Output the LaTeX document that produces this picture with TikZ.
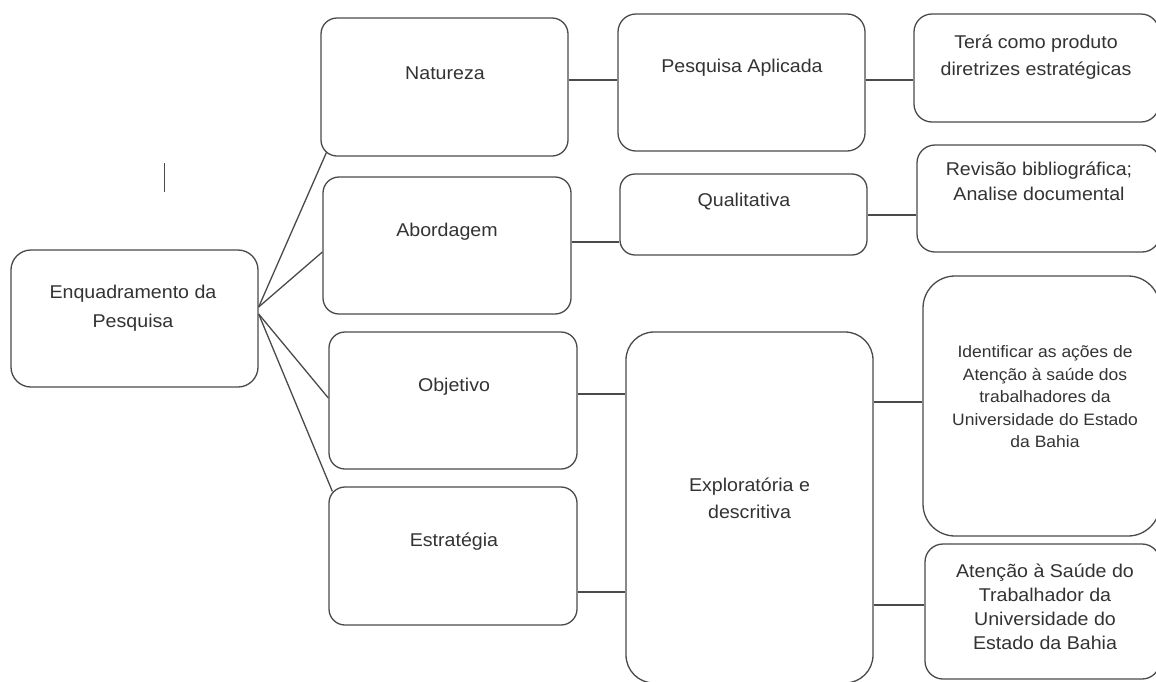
\documentclass[tikz,border=0pt]{standalone}
\usepackage{fontspec}
\setmainfont{Liberation Sans}[FakeStretch=1.06]
\begin{document}
\begin{tikzpicture}[x=1pt,y=-1pt,
  box/.style={draw=linegray, line width=1.3pt, rectangle, inner sep=0pt, fill=white},
  txt/.style={text=textgray, align=center, inner sep=0pt, font=\fontsize{18.5}{26}\selectfont},
  small/.style={text=textgray, align=center, inner sep=0pt, font=\fontsize{16.5}{22.5}\selectfont},
  link/.style={draw=linegray, line width=1.3pt}]
\definecolor{linegray}{HTML}{4A4A4A}
\definecolor{textgray}{HTML}{333333}
\useasboundingbox (0,0) rectangle (1156,681);
\fill[white] (0,0) rectangle (1156,681);

% boxes
\node[box, rounded corners=20pt, minimum width=247pt, minimum height=137pt] (enq) at (134.5,318.5) {};
\node[box, rounded corners=16pt, minimum width=247pt, minimum height=138pt] (nat) at (444.5,87) {};
\node[box, rounded corners=16pt, minimum width=248pt, minimum height=137pt] (abo) at (447,245.5) {};
\node[box, rounded corners=16pt, minimum width=248pt, minimum height=137pt] (obj) at (453,400.5) {};
\node[box, rounded corners=16pt, minimum width=248pt, minimum height=138pt] (est) at (453,556) {};
\node[box, rounded corners=18pt, minimum width=247pt, minimum height=137pt] (pa) at (741.5,82.5) {};
\node[box, rounded corners=15pt, minimum width=247pt, minimum height=81pt] (qual) at (743.5,214.5) {};
\node[box, rounded corners=28pt, minimum width=247pt, minimum height=351pt] (exp) at (749.5,507.5) {};
\node[box, rounded corners=18pt, minimum width=245pt, minimum height=108pt] (tera) at (1036.5,68) {};
\node[box, rounded corners=18pt, minimum width=243pt, minimum height=107pt] (rev) at (1038.5,198.5) {};
\node[box, rounded corners=32pt, minimum width=237pt, minimum height=260pt] (ident) at (1041.5,406) {};
\node[box, rounded corners=18pt, minimum width=235pt, minimum height=135pt] (aten) at (1042.5,611.5) {};

% texts
\node[txt, font=\fontsize{18.5}{29}\selectfont] (enqT) at (133,308) {Enquadramento da\\Pesquisa};
\node[txt] (natT) at (445,73) {Natureza};
\node[txt] (aboT) at (447,232) {Abordagem};
\node[txt] (objT) at (454,387) {Objetivo};
\node[txt] (estT) at (454,542) {Estratégia};
\node[txt] (paT) at (742,68) {Pesquisa Aplicada};
\node[txt] (qualT) at (744,202) {Qualitativa};
\node[txt, font=\fontsize{18.5}{27}\selectfont] (expT) at (749.5,498.5) {Exploratória e\\descritiva};
\node[txt, font=\fontsize{18.5}{27}\selectfont] (teraT) at (1036,57) {Terá como produto\\diretrizes estratégicas};
\node[txt, font=\fontsize{18.5}{25}\selectfont] (revT) at (1039,181) {Revisão bibliográfica;\\Analise documental};
\node[small] (identT) at (1045,397) {Identificar as ações de\\Atenção à saúde dos\\trabalhadores da\\Universidade do Estado\\da Bahia};
\node[txt, font=\fontsize{18.5}{24}\selectfont] (atenT) at (1045,607) {Atenção à Saúde do\\Trabalhador da\\Universidade do\\Estado da Bahia};

% hub points on the left box
\coordinate (h1) at (enq.east |- 0,307);
\coordinate (h2) at (enq.east |- 0,314);

% fan connectors
\draw[link] (h1) -- ([shift={(6,-4)}]nat.south west);
\draw[link] (h1) -- (abo.west |- 0,252);
\draw[link] (h2) -- (obj.west |- 0,398);
\draw[link] (h2) -- ([shift={(4,5)}]est.north west);

% horizontal connectors
\draw[link] (nat.east |- 0,80) -- (pa.west |- 0,80);
\draw[link] (abo.east |- 0,242) -- (qual.west |- 0,242);
\draw[link] (obj.east |- 0,394) -- (exp.west |- 0,394);
\draw[link] (est.east |- 0,592) -- (exp.west |- 0,592);
\draw[link] (pa.east |- 0,80) -- (tera.west |- 0,80);
\draw[link] (qual.east |- 0,215) -- (rev.west |- 0,215);
\draw[link] (exp.east |- 0,402) -- (ident.west |- 0,402);
\draw[link] (exp.east |- 0,605) -- (aten.west |- 0,605);

% stray vertical mark
\draw[draw=linegray, line width=1pt] (164,163) -- (164,192);
\end{tikzpicture}
\end{document}
